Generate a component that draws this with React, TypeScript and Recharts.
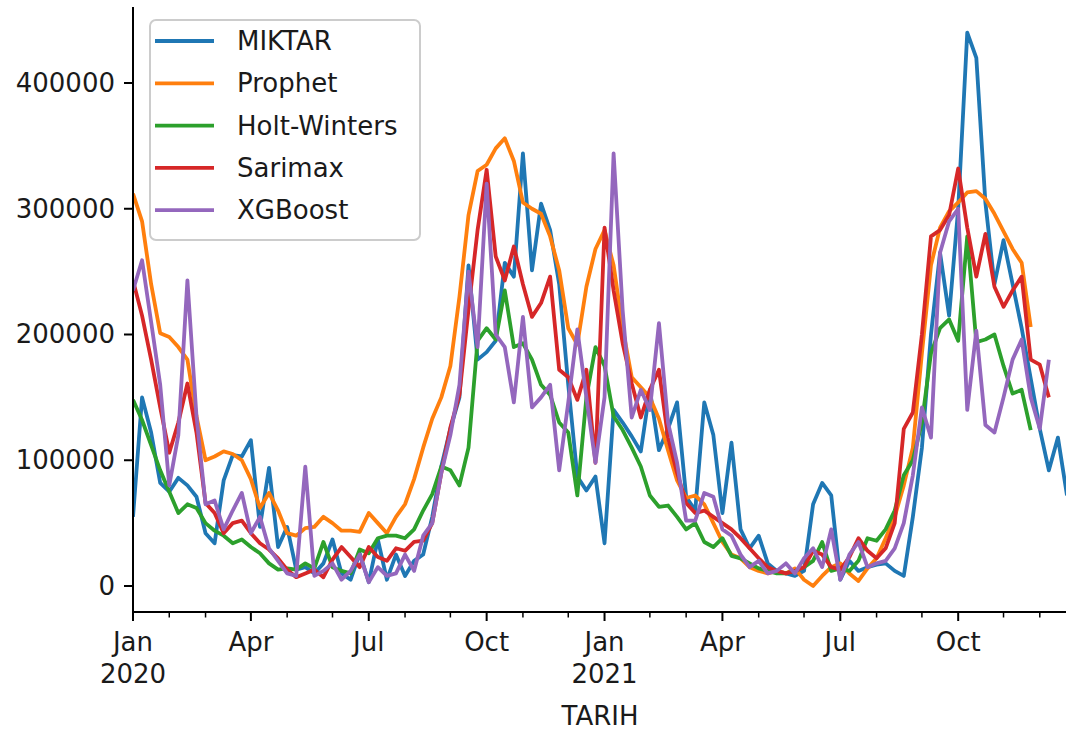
import React from "react";
import { LineChart, Line, XAxis, YAxis, Legend } from "recharts";

// Weekly values, first week of Jan 2020 = index 0
const MIKTAR = [
  55000, 150000, 122000, 82000, 75000, 86000, 80000, 71000, 42000, 34000,
  84000, 104000, 103000, 116000, 47000, 94000, 31000, 47000, 13000, 15000,
  10000, 18000, 37000, 10000, 5000, 26000, 3000, 37000, 5000, 25000,
  8000, 20000, 25000, 55000, 95000, 125000, 150000, 255000, 180000, 186000,
  195000, 257000, 246000, 344000, 251000, 304000, 283000, 240000, 160000, 87000,
  76000, 87000, 34000, 140000, 130000, 119000, 107000, 156000, 108000, 125000,
  146000, 71000, 60000, 146000, 120000, 58000, 114000, 45000, 30000, 40000,
  18000, 12000, 10000, 8000, 12000, 65000, 82000, 72000, 5000, 20000,
  12000, 15000, 17000, 18000, 12000, 8000, 55000, 110000, 200000, 265000,
  215000, 300000, 440000, 420000, 305000, 240000, 275000, 240000, 205000, 165000,
  125000, 92000, 118000, 72000,
];

const PROPHET = [
  312000, 290000, 240000, 201000, 198000, 190000, 180000, 135000, 100000, 103000,
  107000, 105000, 100000, 85000, 62000, 74000, 60000, 42000, 40000, 46000,
  47000, 55000, 50000, 44000, 44000, 43000, 58000, 50000, 42000, 55000,
  65000, 85000, 110000, 133000, 150000, 175000, 230000, 295000, 330000, 335000,
  348000, 356000, 338000, 305000, 300000, 296000, 278000, 251000, 205000, 192000,
  238000, 268000, 283000, 255000, 205000, 166000, 158000, 150000, 133000, 108000,
  84000, 70000, 72000, 65000, 50000, 35000, 25000, 22000, 15000, 12000,
  10000, 12000, 10000, 14000, 5000, 0, 8000, 15000, 18000, 10000,
  4000, 14000, 22000, 38000, 55000, 80000, 110000, 185000, 255000, 285000,
  298000, 305000, 313000, 314000, 308000, 296000, 282000, 268000, 257000, 206000,
];

const HOLT_WINTERS = [
  148000, 132000, 112000, 92000, 75000, 58000, 65000, 62000, 50000, 44000,
  40000, 34000, 37000, 31000, 26000, 18000, 13000, 14000, 13000, 18000,
  14000, 35000, 15000, 12000, 10000, 29000, 26000, 38000, 40000, 40000,
  38000, 45000, 60000, 73000, 95000, 92000, 80000, 110000, 195000, 205000,
  196000, 235000, 190000, 193000, 180000, 160000, 152000, 130000, 122000, 72000,
  150000, 190000, 175000, 135000, 124000, 110000, 95000, 72000, 63000, 64000,
  55000, 45000, 50000, 35000, 31000, 38000, 24000, 22000, 18000, 14000,
  12000, 10000, 10000, 12000, 15000, 20000, 35000, 12000, 14000, 12000,
  20000, 38000, 36000, 45000, 60000, 88000, 100000, 130000, 185000, 205000,
  212000, 195000, 278000, 194000, 196000, 200000, 175000, 153000, 156000, 124000,
];

const SARIMAX = [
  243000, 215000, 180000, 142000, 106000, 130000, 161000, 122000, 66000, 58000,
  42000, 50000, 52000, 42000, 34000, 29000, 22000, 13000, 7000, 10000,
  13000, 7000, 21000, 31000, 23000, 15000, 31000, 23000, 20000, 30000,
  28000, 35000, 36000, 50000, 90000, 126000, 152000, 220000, 283000, 331000,
  262000, 243000, 270000, 240000, 214000, 225000, 246000, 172000, 166000, 148000,
  172000, 98000, 285000, 235000, 193000, 161000, 134000, 156000, 172000, 118000,
  90000, 66000, 58000, 60000, 55000, 50000, 45000, 38000, 30000, 22000,
  15000, 12000, 10000, 12000, 15000, 28000, 25000, 15000, 13000, 23000,
  38000, 28000, 22000, 30000, 50000, 125000, 138000, 200000, 278000, 283000,
  295000, 332000, 285000, 246000, 280000, 238000, 222000, 235000, 246000, 180000,
  176000, 150000,
];

const XGBOOST = [
  235000, 259000, 210000, 160000, 80000, 120000, 243000, 135000, 65000, 68000,
  45000, 60000, 74000, 42000, 55000, 30000, 20000, 10000, 8000, 95000,
  8000, 12000, 18000, 5000, 12000, 25000, 3000, 15000, 8000, 10000,
  25000, 12000, 40000, 50000, 90000, 120000, 160000, 250000, 190000, 320000,
  200000, 190000, 146000, 214000, 142000, 150000, 160000, 92000, 146000, 204000,
  150000, 98000, 150000, 344000, 219000, 134000, 156000, 140000, 209000, 130000,
  98000, 52000, 52000, 74000, 71000, 45000, 40000, 25000, 15000, 20000,
  10000, 12000, 18000, 10000, 22000, 30000, 15000, 45000, 5000, 25000,
  35000, 15000, 18000, 20000, 30000, 50000, 88000, 142000, 118000, 265000,
  290000, 300000, 140000, 203000, 128000, 122000, 150000, 180000, 196000, 150000,
  125000, 180000,
];

// Month ticks (week index of the first week of each month)
const MONTH_TICKS = [0, 4, 8, 13, 17, 22, 26, 30, 35, 39, 43, 48, 52, 57, 61, 65, 69, 74, 78, 82, 87, 91, 96, 100];
const QUARTER_TICKS = [0, 13, 26, 39, 52, 65, 78, 91];
const QUARTER_LABELS = [["Jan", "2020"], ["Apr"], ["Jul"], ["Oct"], ["Jan", "2021"], ["Apr"], ["Jul"], ["Oct"]];
const Y_TICKS = [0, 100000, 200000, 300000, 400000];

const SERIES = [
  { name: "MIKTAR", color: "#1f77b4", values: MIKTAR },
  { name: "Prophet", color: "#ff7f0e", values: PROPHET },
  { name: "Holt-Winters", color: "#2ca02c", values: HOLT_WINTERS },
  { name: "Sarimax", color: "#d62728", values: SARIMAX },
  { name: "XGBoost", color: "#9467bd", values: XGBOOST },
];

const data = MIKTAR.map((_, i) => {
  const row: Record<string, number | null> = { week: i };
  SERIES.forEach((s) => {
    row[s.name] = i < s.values.length ? s.values[i] : null;
  });
  return row;
});

const FONT = "DejaVu Sans";
const FS = 26;
const TXT = "#1a1a1a";

const XTick = (props: any) => {
  const { x, y, payload } = props;
  const qi = QUARTER_TICKS.indexOf(payload.value);
  const major = qi >= 0;
  return (
    <g>
      <line x1={x} x2={x} y1={y} y2={y + (major ? 9 : 5.5)} stroke="#000" strokeWidth={major ? 2 : 1.5} />
      {major &&
        QUARTER_LABELS[qi].map((t, k) => (
          <text
            key={k}
            x={x}
            y={y + 20 + k * 32}
            textAnchor="middle"
            dominantBaseline="hanging"
            fontFamily={FONT}
            fontSize={FS}
            fill={TXT}
          >
            {t}
          </text>
        ))}
    </g>
  );
};

const YTick = (props: any) => {
  const { x, y, payload } = props;
  return (
    <g>
      <line x1={x - 9} x2={x} y1={y} y2={y} stroke="#000" strokeWidth={2} />
      <text x={x - 18} y={y} textAnchor="end" dominantBaseline="central" fontFamily={FONT} fontSize={FS} fill={TXT}>
        {String(payload.value)}
      </text>
    </g>
  );
};

const LegendBox = () => (
  <svg width={272} height={222} style={{ display: "block" }}>
    <rect x={1} y={1} width={270} height={220} rx={6} ry={6} fill="rgba(255,255,255,0.8)" stroke="#cccccc" strokeWidth={2} />
    {SERIES.map((s, i) => {
      const cy = 22 + i * 42.3;
      return (
        <g key={s.name}>
          <line x1={6} x2={65} y1={cy} y2={cy} stroke={s.color} strokeWidth={3.8} />
          <text x={88} y={cy} dominantBaseline="central" fontFamily={FONT} fontSize={FS} fill={TXT}>
            {s.name}
          </text>
        </g>
      );
    })}
  </svg>
);

export default function App() {
  return (
    <div style={{ position: "absolute", left: 0, top: 0, width: 1066, height: 733, overflow: "hidden", background: "#fff" }}>
      <LineChart width={1068} height={733} data={data} margin={{ top: 7, right: 1, left: 0, bottom: 0 }}>
        <XAxis
          dataKey="week"
          type="number"
          domain={[0, 103]}
          allowDataOverflow
          ticks={MONTH_TICKS}
          interval={0}
          tick={<XTick />}
          tickLine={false}
          tickSize={0}
          tickMargin={0}
          height={121}
          axisLine={{ stroke: "#000", strokeWidth: 2 }}
          label={{ value: "TARIH", position: "insideBottom", offset: 8, fontFamily: FONT, fontSize: FS, fill: TXT }}
        />
        <XAxis
          xAxisId="top"
          dataKey="week"
          type="number"
          domain={[0, 103]}
          orientation="top"
          height={0}
          tick={false}
          tickLine={false}
          axisLine={{ stroke: "#000", strokeWidth: 2 }}
        />
        <YAxis
          type="number"
          domain={[-20676, 460437]}
          allowDataOverflow
          ticks={Y_TICKS}
          interval={0}
          tick={<YTick />}
          tickLine={false}
          tickSize={0}
          tickMargin={0}
          width={133}
          axisLine={{ stroke: "#000", strokeWidth: 2 }}
        />
        <YAxis
          yAxisId="right"
          orientation="right"
          width={0}
          tick={false}
          tickLine={false}
          axisLine={{ stroke: "#000", strokeWidth: 2 }}
        />
        <Legend
          layout="horizontal"
          verticalAlign="middle"
          align="center"
          wrapperStyle={{ left: 149, top: 19, width: 272, height: 222 }}
          content={<LegendBox />}
        />
        {SERIES.map((s) => (
          <Line
            key={s.name}
            type="linear"
            dataKey={s.name}
            stroke={s.color}
            strokeWidth={3.8}
            strokeLinejoin="round"
            dot={false}
            activeDot={false}
            isAnimationActive={false}
            connectNulls={false}
          />
        ))}
      </LineChart>
    </div>
  );
}
